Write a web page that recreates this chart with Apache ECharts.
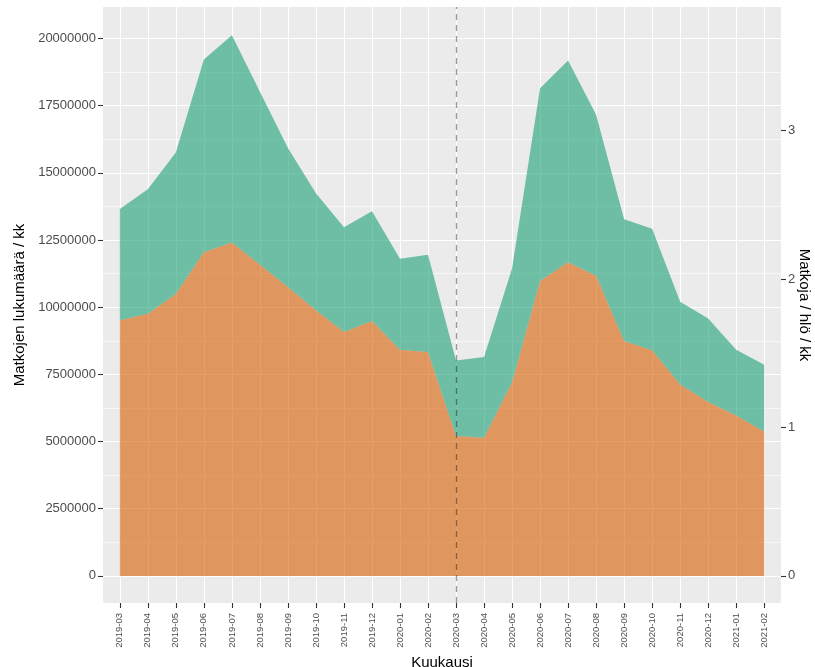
<!DOCTYPE html>
<html>
<head>
<meta charset="utf-8">
<script src="https://cdn.jsdelivr.net/npm/echarts@6/dist/echarts.min.js"></script>
<style>
  html, body { margin: 0; padding: 0; background: #fff; }
  #chart { width: 815px; height: 667px; }
</style>
</head>
<body>
<div id="chart"></div>
<script>
const months = ['2019-03', '2019-04', '2019-05', '2019-06', '2019-07', '2019-08', '2019-09', '2019-10',
  '2019-11', '2019-12', '2020-01', '2020-02', '2020-03', '2020-04', '2020-05', '2020-06', '2020-07',
  '2020-08', '2020-09', '2020-10', '2020-11', '2020-12', '2021-01', '2021-02'];
// alempi (oranssi) kerros
const lowerTrips = [9510000, 9760000, 10490000, 12040000, 12410000, 11580000, 10750000, 9890000,
  9080000, 9490000, 8420000, 8330000, 5210000, 5140000, 7210000, 10970000, 11670000,
  11170000, 8740000, 8400000, 7120000, 6470000, 5970000, 5370000];
// ylempi (vihreä) kerros, pinottu oranssin päälle
const upperTrips = [4140000, 4630000, 5270000, 7180000, 7710000, 6440000, 5170000, 4350000,
  3890000, 4080000, 3380000, 3620000, 2810000, 3010000, 4230000, 7180000, 7510000,
  5990000, 4530000, 4520000, 3080000, 3110000, 2450000, 2490000];
const leftTicks = [0, 2500000, 5000000, 7500000, 10000000, 12500000, 15000000, 17500000, 20000000];
const leftMinorTicks = [1250000, 3750000, 6250000, 8750000, 11250000, 13750000, 16250000, 18750000];
const rightTicks = [0, 1, 2, 3];
const covidMonth = '2020-03';

const monthIdx = months.map((m, i) => i);
// [arvo, kuukausi-indeksi] jotta pinoaminen tapahtuu y-suunnassa
const toPoints = arr => arr.map((v, i) => [v, i]);

const yMin = -1008000, yMax = 21170000;
const perUnit = 5522000;

let charts = echarts.init(document.getElementById('chart'));
let axisText = { color: '#4D4D4D', fontFamily: 'Liberation Sans', fontSize: 13 };
let tickStyle = { color: '#333333', width: 1.1 };
let titleText = { color: '#000', fontFamily: 'Liberation Sans', fontSize: 15 };
let option = {
  animation: false,
  grid: {
    left: 103, right: 34, top: 7, bottom: 64,
    outerBoundsMode: 'none', containLabel: false,
    show: true, backgroundColor: '#EBEBEB', borderWidth: 0
  },
  xAxis: {
    type: 'value',
    min: -0.6, max: months.length - 1 + 0.6,
    name: 'Kuukausi', nameLocation: 'middle', nameGap: 50,
    nameTextStyle: titleText,
    axisLine: { show: false, onZero: false },
    axisTick: { show: true, length: 5, customValues: monthIdx, lineStyle: tickStyle },
    axisLabel: {
      customValues: monthIdx, rotate: 90, margin: 10,
      color: '#4D4D4D', fontFamily: 'Liberation Sans', fontSize: 9.5,
      formatter: v => months[Math.round(v)]
    },
    splitLine: { show: true, lineStyle: { color: '#FFFFFF', width: 1.1 } }
  },
  yAxis: [
    {
      type: 'value', position: 'left', min: yMin, max: yMax,
      name: 'Matkojen lukumäärä / kk', nameLocation: 'middle', nameGap: 76,
      nameTextStyle: titleText,
      axisLine: { show: false, onZero: false },
      axisTick: { show: true, length: 5, customValues: leftTicks, lineStyle: tickStyle },
      axisLabel: Object.assign({ customValues: leftTicks, margin: 7, formatter: v => String(v) }, axisText),
      splitLine: { show: true, lineStyle: { color: '#FFFFFF', width: 1.1 } }
    },
    {
      type: 'value', position: 'right', min: yMin / perUnit, max: yMax / perUnit,
      name: 'Matkoja / hlö / kk', nameLocation: 'middle', nameGap: 16, nameRotate: -90,
      nameMoveOverlap: false,
      nameTextStyle: titleText,
      axisLine: { show: false, onZero: false },
      axisTick: { show: true, length: 5, customValues: rightTicks, lineStyle: tickStyle },
      axisLabel: Object.assign({ customValues: rightTicks, margin: 7, formatter: v => String(v) }, axisText),
      splitLine: { show: false }
    },
    {
      // vain apuviivat
      type: 'value', position: 'left', min: yMin, max: yMax,
      axisLine: { show: false, onZero: false },
      axisTick: { show: false, customValues: leftMinorTicks },
      axisLabel: { show: false, customValues: leftMinorTicks },
      splitLine: { show: true, lineStyle: { color: '#FFFFFF', width: 0.6 } }
    }
  ],
  series: [
    {
      type: 'line', stack: 'matkat', data: toPoints(lowerTrips),
      encode: { x: 1, y: 0 },
      showSymbol: false, lineStyle: { width: 0 },
      areaStyle: { color: '#D95F02', opacity: 0.6 },
      markLine: {
        silent: true, symbol: 'none', label: { show: false },
        lineStyle: { color: 'rgba(0,0,0,0.4)', type: [6, 5], width: 1.3 },
        data: [{ xAxis: months.indexOf(covidMonth) }]
      }
    },
    {
      type: 'line', stack: 'matkat', data: toPoints(upperTrips),
      encode: { x: 1, y: 0 },
      showSymbol: false, lineStyle: { width: 0 },
      areaStyle: { color: '#1B9E77', opacity: 0.6 }
    }
  ]
};
charts.setOption(option);
</script>
</body>
</html>
